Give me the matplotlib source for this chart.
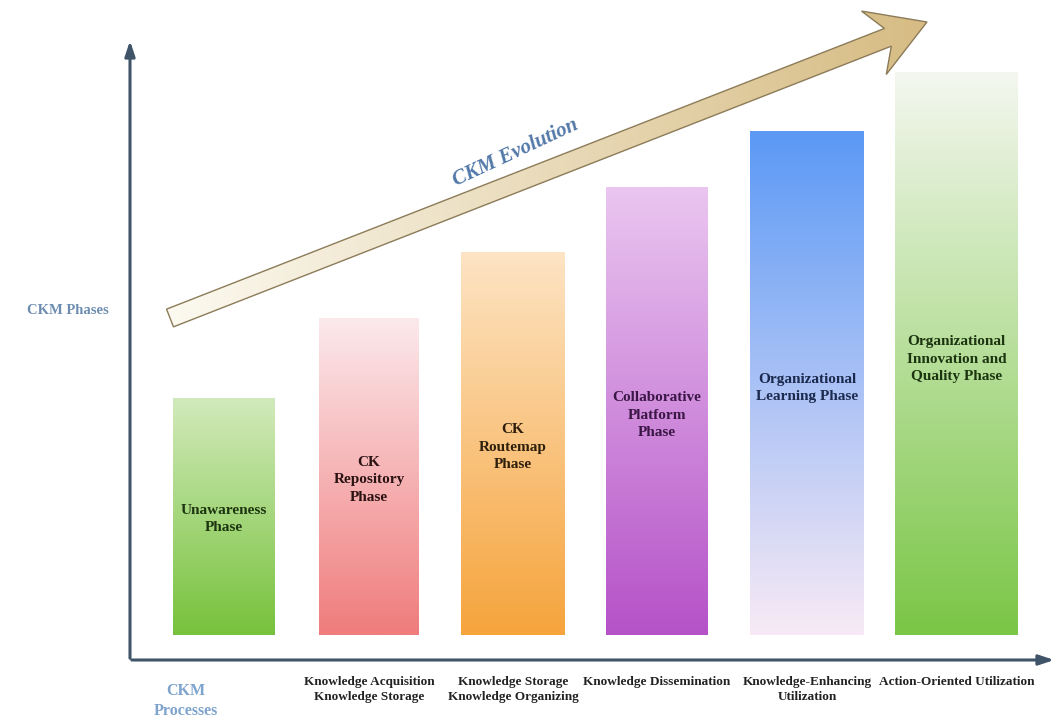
import numpy as np
import matplotlib
matplotlib.use("Agg")
import matplotlib.pyplot as plt
from matplotlib.patches import Polygon
from matplotlib.colors import to_rgb

# ---------------- data ----------------
phases = ["Unawareness\nPhase",
          "CK\nRepository\nPhase",
          "CK\nRoutemap\nPhase",
          "Collaborative\nPlatform\nPhase",
          "Organizational\nLearning Phase",
          "Organizational\nInnovation and\nQuality Phase"]
processes = ["",
             "Knowledge Acquisition\nKnowledge Storage",
             "Knowledge Storage\nKnowledge Organizing",
             "Knowledge Dissemination",
             "Knowledge-Enhancing\nUtilization",
             "Action-Oriented Utilization"]
heights = [237, 317, 383, 448, 504, 563]

# ---------------- layout / style ----------------
centers = [224, 369, 513, 657, 807, 956.5]
widths = [102, 100, 104, 102, 114, 123]
base = 84
top_colors = ["#d2eabb", "#fce9ec", "#fde4c4", "#eac6f0", "#5b99f5", "#f4f7ef"]
bot_colors = ["#77c23c", "#f07c7c", "#f6a43c", "#b552c8", "#f8eaf6", "#7ac646"]
text_colors = ["#1c3510", "#2a1212", "#2e1f0c", "#3a1646", "#1b2a4e", "#1c3510"]
serif = ["Liberation Serif", "DejaVu Serif"]
axis_col = "#3f5369"

fig = plt.figure(figsize=(10.57, 7.19), dpi=100)
ax = fig.add_axes([0, 0, 1, 1])
ax.set_xlim(0, 1057)
ax.set_ylim(0, 719)
ax.axis("off")

bars = ax.bar(centers, heights, width=widths, bottom=base, color="none",
              edgecolor="none", zorder=2)

for i, b in enumerate(bars):
    c1 = np.array(to_rgb(top_colors[i]))
    c2 = np.array(to_rgb(bot_colors[i]))
    t = np.linspace(0, 1, 256)[:, None]
    grad = (c1 * (1 - t) + c2 * t)[:, None, :]
    x, w = b.get_x(), b.get_width()
    im = ax.imshow(grad, extent=[x, x + w, base, base + heights[i]],
                   aspect="auto", origin="upper", zorder=2)
    im.set_clip_path(b)
    ax.text(centers[i], base + 0.49 * heights[i], phases[i], ha="center",
            va="center", fontsize=11, fontweight="bold", family=serif,
            color=text_colors[i], linespacing=1.45, zorder=4)
    if processes[i]:
        ax.text(centers[i], 43, processes[i], ha="center", va="top",
                fontsize=9.5, fontweight="bold", family=serif,
                color="#222222", linespacing=1.3, zorder=4)

# axes arrows
ax.annotate("", xy=(130, 681), xytext=(130, 58),
            arrowprops=dict(arrowstyle="-|>,head_length=0.9,head_width=0.3",
                            color=axis_col, lw=2.2))
ax.annotate("", xy=(1057, 59), xytext=(129, 59),
            arrowprops=dict(arrowstyle="-|>,head_length=0.9,head_width=0.3",
                            color=axis_col, lw=2.2))

ax.text(68, 409, "CKM Phases", ha="center", va="center", fontsize=10.5,
        fontweight="bold", family=serif, color="#6d8db0")
ax.text(186, 18, "CKM\nProcesses", ha="center", va="center", fontsize=11.5,
        fontweight="bold", family=serif, color="#7ea3cc", linespacing=1.35)

# big evolution arrow
tail = np.array([170.0, 401.0])
tip = np.array([927.0, 697.0])
d = tip - tail
L = np.hypot(*d)
u = d / L
n = np.array([-u[1], u[0]])
def P(a, v):
    return tail + u * a + n * v
hw, bw = 9.5, 34
pts = [P(0, -hw), P(L - 42, -hw), P(L - 57, -bw), P(L, 0),
       P(L - 57, bw), P(L - 42, hw), P(0, hw)]
arrow = Polygon(pts, closed=True, facecolor="none", edgecolor="#8c7b58",
                lw=1.0, zorder=3)
ax.add_patch(arrow)
g = np.linspace(0, 1, 256)[None, :]
ca = np.array(to_rgb("#fcfaf1"))
cb = np.array(to_rgb("#d6bb82"))
agrad = ca * (1 - g[..., None]) + cb * g[..., None]
im = ax.imshow(agrad, extent=[160, 935, 380, 715], aspect="auto",
               origin="upper", zorder=2.5)
im.set_clip_path(arrow)

ax.text(516, 566, "CKM Evolution", ha="center", va="center", rotation=25,
        rotation_mode="anchor", fontsize=15, style="italic",
        fontweight="bold", family=serif, color="#5278a8", zorder=4)

ax.set_xlim(0, 1057)
ax.set_ylim(0, 719)
fig.savefig("out.png", dpi=100)
